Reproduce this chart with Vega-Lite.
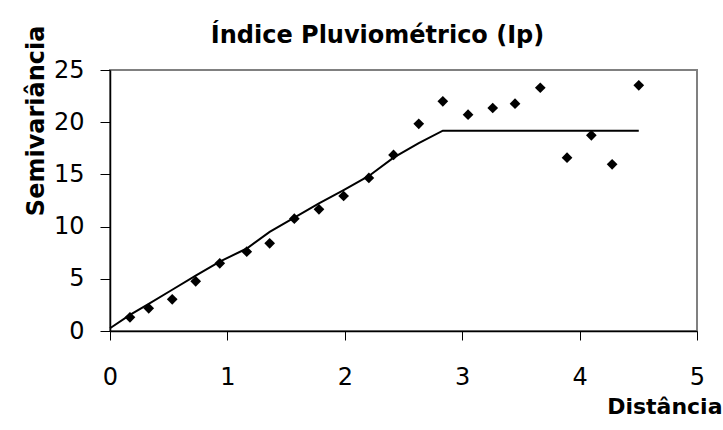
{
  "$schema": "https://vega.github.io/schema/vega-lite/v6.json",
  "width": 587,
  "height": 261,
  "autosize": {"type": "none"},
  "padding": {"left": 110, "top": 70, "right": 26, "bottom": 99},
  "background": "white",
  "title": {
    "text": "Índice Pluviométrico (Ip)",
    "font": "DejaVu Sans",
    "fontSize": 24,
    "fontWeight": "bold",
    "color": "black",
    "anchor": "middle",
    "dx": -26,
    "offset": 0,
    "dy": 42,
    "baseline": "alphabetic"
  },
  "datasets": {
    "obs": [
      {"dist": 0.17, "semi": 1.31},
      {"dist": 0.33, "semi": 2.17},
      {"dist": 0.53, "semi": 3.03},
      {"dist": 0.73, "semi": 4.76},
      {"dist": 0.935, "semi": 6.48},
      {"dist": 1.165, "semi": 7.6},
      {"dist": 1.36, "semi": 8.4},
      {"dist": 1.57, "semi": 10.76},
      {"dist": 1.78, "semi": 11.66},
      {"dist": 1.99, "semi": 12.93},
      {"dist": 2.205, "semi": 14.66},
      {"dist": 2.415, "semi": 16.86},
      {"dist": 2.63, "semi": 19.84},
      {"dist": 2.835, "semi": 22.0},
      {"dist": 3.05, "semi": 20.72},
      {"dist": 3.26, "semi": 21.36},
      {"dist": 3.45, "semi": 21.77},
      {"dist": 3.665, "semi": 23.3},
      {"dist": 3.893, "semi": 16.6},
      {"dist": 4.1, "semi": 18.74},
      {"dist": 4.277, "semi": 15.97},
      {"dist": 4.504, "semi": 23.53}
    ],
    "model": [
      {"dist": 0, "semi": 0.26},
      {"dist": 0.17, "semi": 1.55},
      {"dist": 0.33, "semi": 2.6},
      {"dist": 0.53, "semi": 3.95},
      {"dist": 0.73, "semi": 5.3},
      {"dist": 0.935, "semi": 6.65},
      {"dist": 1.165, "semi": 7.9},
      {"dist": 1.36, "semi": 9.5},
      {"dist": 1.57, "semi": 10.85},
      {"dist": 1.78, "semi": 12.23},
      {"dist": 1.99, "semi": 13.5},
      {"dist": 2.205, "semi": 14.85},
      {"dist": 2.415, "semi": 16.6},
      {"dist": 2.63, "semi": 18.0},
      {"dist": 2.835, "semi": 19.19},
      {"dist": 3.05, "semi": 19.19},
      {"dist": 3.26, "semi": 19.19},
      {"dist": 3.45, "semi": 19.19},
      {"dist": 3.665, "semi": 19.19},
      {"dist": 3.893, "semi": 19.19},
      {"dist": 4.1, "semi": 19.19},
      {"dist": 4.277, "semi": 19.19},
      {"dist": 4.504, "semi": 19.19}
    ]
  },
  "layer": [
    {
      "data": {"name": "model"},
      "mark": {"type": "line", "color": "black", "strokeWidth": 2},
      "encoding": {
        "x": {
          "field": "dist",
          "type": "quantitative",
          "scale": {"domain": [0, 5], "nice": false, "zero": false},
          "axis": {
            "title": "Distância",
            "values": [0, 1, 2, 3, 4, 5],
            "format": "d",
            "grid": false,
            "domainColor": "black",
            "domainWidth": 1.5,
            "tickColor": "black",
            "tickWidth": 1,
            "tickSize": 9,
            "labelFont": "DejaVu Sans",
            "labelFontSize": 24,
            "labelColor": "black",
            "labelPadding": 25,
            "labelFlush": false,
            "titleFont": "DejaVu Sans",
            "titleFontSize": 22,
            "titleFontWeight": "bold",
            "titleColor": "black",
            "titleAlign": "right",
            "titleBaseline": "alphabetic",
            "titleAnchor": "end",
            "titleX": 612,
            "titleY": 82
          }
        },
        "y": {
          "field": "semi",
          "type": "quantitative",
          "scale": {"domain": [0, 25], "nice": false},
          "axis": {
            "title": "Semivariância",
            "values": [0, 5, 10, 15, 20, 25],
            "grid": false,
            "domainColor": "black",
            "domainWidth": 1.5,
            "tickColor": "black",
            "tickWidth": 1,
            "tickSize": 10,
            "labelFont": "DejaVu Sans",
            "labelFontSize": 24,
            "labelColor": "black",
            "labelPadding": 16,
            "labelFlush": false,
            "titleFont": "DejaVu Sans",
            "titleFontSize": 24,
            "titleFontWeight": "bold",
            "titleColor": "black",
            "titleAngle": 270,
            "titleAlign": "right",
            "titleBaseline": "alphabetic",
            "titleAnchor": "end",
            "titleX": -67,
            "titleY": -45
          }
        }
      }
    },
    {
      "data": {"name": "obs"},
      "mark": {"type": "point", "shape": "diamond", "filled": true, "color": "black", "opacity": 1, "size": 115},
      "encoding": {
        "x": {"field": "dist", "type": "quantitative"},
        "y": {"field": "semi", "type": "quantitative"}
      }
    }
  ],
  "config": {
    "view": {"stroke": "#808080", "strokeWidth": 2}
  }
}
